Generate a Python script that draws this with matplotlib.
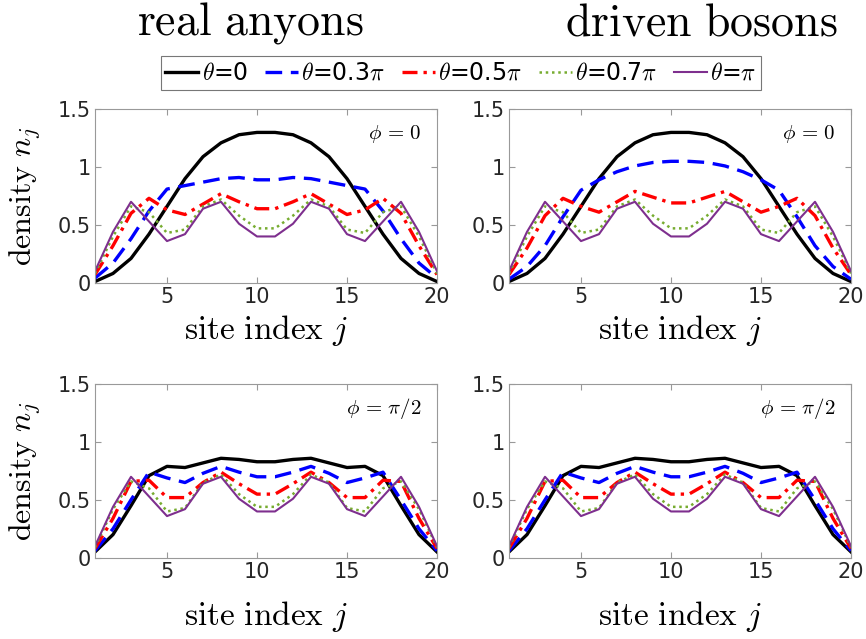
import numpy as np
import matplotlib
matplotlib.use("Agg")
import matplotlib.pyplot as plt

plt.rcParams["mathtext.fontset"] = "cm"

sites = np.arange(1, 21)

# density profiles n_j, one list per theta value
anyon_phi0_t0 = [0.01, 0.08, 0.21, 0.42, 0.66, 0.90, 1.09, 1.21, 1.28, 1.30,
                 1.30, 1.28, 1.21, 1.09, 0.90, 0.66, 0.42, 0.21, 0.08, 0.01]
anyon_phi0_t03 = [0.04, 0.17, 0.38, 0.62, 0.81, 0.84, 0.87, 0.90, 0.91, 0.89,
                  0.89, 0.91, 0.90, 0.87, 0.84, 0.81, 0.62, 0.38, 0.17, 0.04]
anyon_phi0_t05 = [0.07, 0.32, 0.60, 0.73, 0.63, 0.59, 0.68, 0.77, 0.70, 0.64,
                  0.64, 0.70, 0.77, 0.68, 0.59, 0.63, 0.73, 0.60, 0.32, 0.07]
anyon_phi0_t07 = [0.08, 0.40, 0.66, 0.61, 0.43, 0.46, 0.66, 0.72, 0.58, 0.47,
                  0.47, 0.58, 0.72, 0.66, 0.46, 0.43, 0.61, 0.66, 0.40, 0.08]
anyon_phi0_t1 = [0.10, 0.44, 0.70, 0.53, 0.36, 0.42, 0.64, 0.70, 0.51, 0.40,
                 0.40, 0.51, 0.70, 0.64, 0.42, 0.36, 0.53, 0.70, 0.44, 0.10]

boson_phi0_t0 = anyon_phi0_t0
boson_phi0_t03 = [0.03, 0.14, 0.32, 0.57, 0.80, 0.89, 0.96, 1.01, 1.04, 1.05,
                  1.05, 1.04, 1.01, 0.96, 0.89, 0.80, 0.57, 0.32, 0.14, 0.03]
boson_phi0_t05 = [0.07, 0.30, 0.58, 0.73, 0.66, 0.61, 0.70, 0.79, 0.74, 0.69,
                  0.69, 0.74, 0.79, 0.70, 0.61, 0.66, 0.73, 0.58, 0.30, 0.07]
boson_phi0_t07 = anyon_phi0_t07
boson_phi0_t1 = anyon_phi0_t1

phi2_t0 = [0.05, 0.20, 0.45, 0.71, 0.79, 0.78, 0.82, 0.86, 0.85, 0.83,
           0.83, 0.85, 0.86, 0.82, 0.78, 0.79, 0.71, 0.45, 0.20, 0.05]
phi2_t03 = [0.06, 0.25, 0.50, 0.74, 0.69, 0.65, 0.73, 0.79, 0.74, 0.70,
            0.70, 0.74, 0.79, 0.73, 0.65, 0.69, 0.74, 0.50, 0.25, 0.06]
phi2_t05 = [0.08, 0.34, 0.66, 0.67, 0.52, 0.52, 0.65, 0.74, 0.64, 0.55,
            0.55, 0.64, 0.74, 0.65, 0.52, 0.52, 0.67, 0.66, 0.34, 0.08]
phi2_t07 = [0.09, 0.42, 0.66, 0.60, 0.40, 0.43, 0.65, 0.72, 0.55, 0.44,
            0.44, 0.55, 0.72, 0.65, 0.43, 0.40, 0.60, 0.66, 0.42, 0.09]
phi2_t1 = anyon_phi0_t1

theta_labels = [r"$\theta$=0", r"$\theta$=0.3$\pi$", r"$\theta$=0.5$\pi$",
                r"$\theta$=0.7$\pi$", r"$\theta$=$\pi$"]
column_titles = [r"$\mathrm{real\ anyons}$", r"$\mathrm{driven\ bosons}$"]
phi_labels = [r"$\phi\,=\,0$", r"$\phi\,=\,\pi/2$"]

panels = [
    [[anyon_phi0_t0, anyon_phi0_t03, anyon_phi0_t05, anyon_phi0_t07, anyon_phi0_t1],
     [boson_phi0_t0, boson_phi0_t03, boson_phi0_t05, boson_phi0_t07, boson_phi0_t1]],
    [[phi2_t0, phi2_t03, phi2_t05, phi2_t07, phi2_t1],
     [phi2_t0, phi2_t03, phi2_t05, phi2_t07, phi2_t1]],
]

styles = [
    dict(color="black", lw=2.4, ls="-"),
    dict(color=(0, 0, 1), lw=2.4, ls=(0, (5, 2.6))),
    dict(color=(1, 0, 0), lw=2.4, ls=(0, (4.5, 1.8, 1.0, 1.8))),
    dict(color=(0.466, 0.674, 0.188), lw=1.8, ls=(0, (1, 1.5))),
    dict(color=(0.494, 0.184, 0.556), lw=1.5, ls="-"),
]

fig = plt.figure(figsize=(8.66, 6.39), dpi=100)

tick_color = "#262626"
edge_color = "#999999"
lefts = [95 / 866, 509 / 866]
bottoms = [1 - 282.7 / 639, 1 - 557.7 / 639]
w = 342 / 866
h = 173.4 / 639
xlabel_offsets = [-0.325, -0.388]

axes = []
for r in range(2):
    for c in range(2):
        ax = fig.add_axes([lefts[c], bottoms[r], w, h])
        for data, st in zip(panels[r][c], styles):
            ax.plot(sites, data, **st)
        ax.set_xlim(1, 20)
        ax.set_ylim(0, 1.5)
        ax.set_xticks([5, 10, 15, 20])
        ax.set_yticks([0, 0.5, 1, 1.5])
        ax.set_yticklabels(["0", "0.5", "1", "1.5"])
        ax.tick_params(direction="in", top=True, right=True, length=4,
                       width=0.8, color=edge_color, labelcolor=tick_color,
                       labelsize=15, pad=3)
        for sp in ax.spines.values():
            sp.set_color(edge_color)
            sp.set_linewidth(0.8)
        ax.set_xlabel(r"$\mathrm{site\ index}\ j$", fontsize=24,
                      color="black", va="baseline")
        ax.xaxis.set_label_coords(0.5, xlabel_offsets[r])
        if c == 0:
            ax.set_ylabel(r"$\mathrm{density}\ n_j$", fontsize=23,
                          color="black", va="center")
            ax.yaxis.set_label_coords(-0.205, 0.5)
        ax.text(0.955, 0.86, phi_labels[r], transform=ax.transAxes,
                ha="right", va="center", fontsize=15)
        axes.append(ax)

fig.text(250 / 866, 1 - 35 / 639, column_titles[0],
         ha="center", va="baseline", fontsize=33)
fig.text(701 / 866, 1 - 35 / 639, column_titles[1],
         ha="center", va="baseline", fontsize=33)

handles = axes[0].get_lines()
leg = fig.legend(handles, theta_labels, loc="center",
                 bbox_to_anchor=(461 / 866, 1 - 73 / 639), ncol=5,
                 fontsize=17, frameon=True, fancybox=False,
                 handlelength=1.4, handletextpad=0.15, columnspacing=0.7,
                 borderpad=0.2, borderaxespad=0)
leg.get_frame().set_edgecolor("#555555")
leg.get_frame().set_linewidth(0.8)

fig.savefig("out.png", dpi=100)
